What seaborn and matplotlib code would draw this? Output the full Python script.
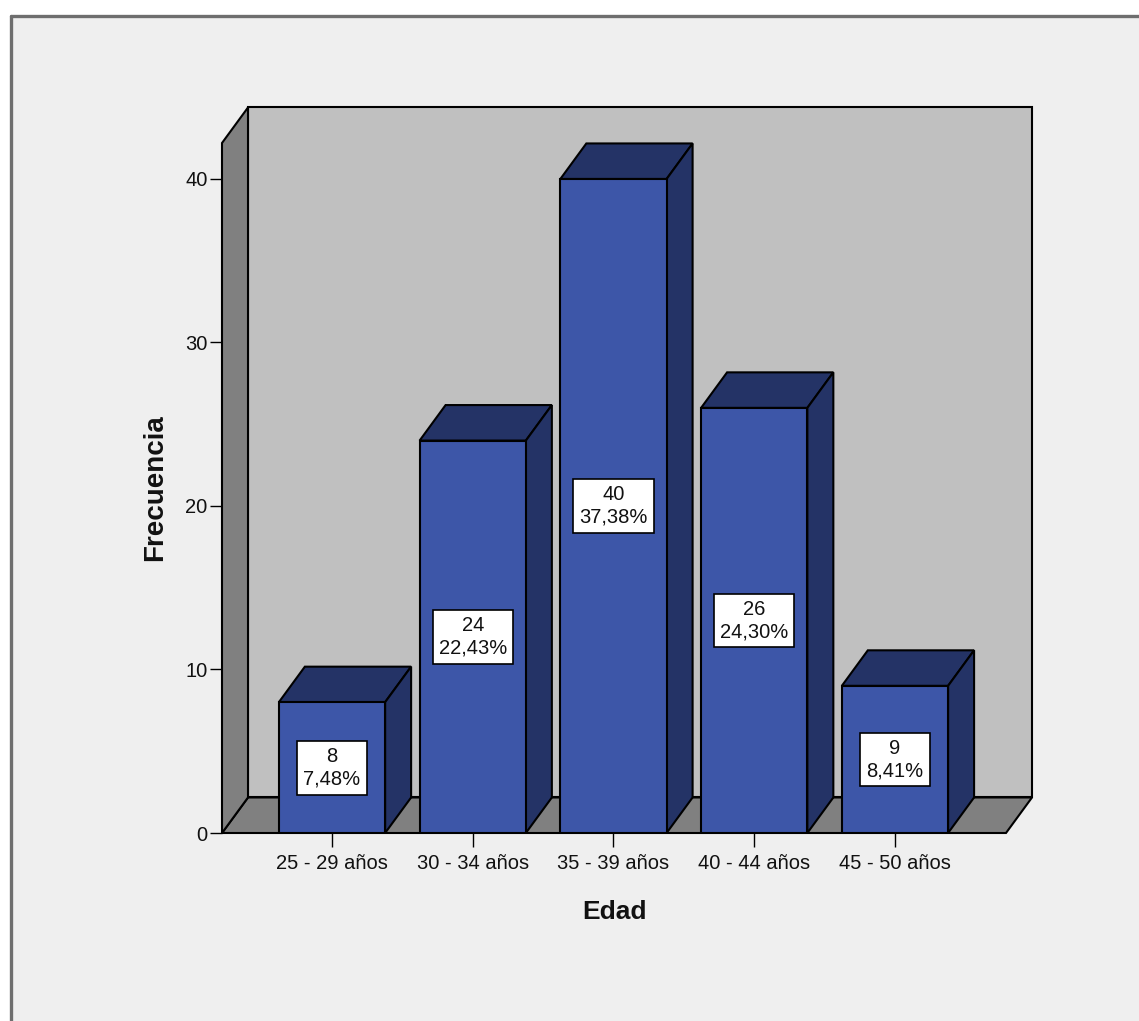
import matplotlib
matplotlib.use("Agg")
import matplotlib.pyplot as plt
from matplotlib.patches import Polygon, Rectangle
from matplotlib.lines import Line2D
import seaborn as sns
import pandas as pd

# Age groups and their frequencies
categories = ["25 - 29 años", "30 - 34 años", "35 - 39 años", "40 - 44 años", "45 - 50 años"]
counts = [8, 24, 40, 26, 9]
y_ticks = [0, 10, 20, 30, 40]

total = sum(counts)
pct_labels = [f"{c / total * 100:.2f}%".replace(".", ",") for c in counts]

sns.set_theme(style="white")
plt.rcParams["font.family"] = ["Liberation Sans", "DejaVu Sans"]

FRONT = "#3D56A8"
DARK = "#243366"
BACK_WALL = "#C0C0C0"
SIDE_WALL = "#808080"
PANEL = "#EFEFEF"

W, H = 1139, 1021
fig = plt.figure(figsize=(W / 100, H / 100), dpi=100, facecolor="white")

# Light panel with the grey frame on its top and left edges
fig.patches.append(Rectangle((11 / W, 0), 1, 1 - 15 / H, transform=fig.transFigure,
                             facecolor=PANEL, edgecolor="none", zorder=-10))
fig.lines.append(Line2D([10.5 / W, 1], [1 - 15.5 / H, 1 - 15.5 / H], transform=fig.transFigure,
                        color="#6E6E6E", lw=2.4, zorder=-5))
fig.lines.append(Line2D([10.5 / W, 10.5 / W], [0, 1 - 15.5 / H], transform=fig.transFigure,
                        color="#6E6E6E", lw=2.4, zorder=-5))

ax = fig.add_axes([222 / W, (H - 833) / H, 784 / W, 690 / H])
ax.patch.set_visible(False)

x_lo, x_hi = -0.7815, 4.789
y_top = 42.2
ax.set_xlim(x_lo, x_hi)
ax.set_ylim(0, y_top)

# Depth of the pseudo-3D box, in data units
dx = 26 / 140.75
dy = 35.5 / 16.34
edge = dict(edgecolor="black", linewidth=1.5, clip_on=False)

# Back wall, floor and left wall
ax.add_patch(Polygon([(x_lo + dx, dy), (x_hi + dx, dy), (x_hi + dx, y_top + dy), (x_lo + dx, y_top + dy)],
                     facecolor=BACK_WALL, zorder=0.1, **edge))
ax.add_patch(Polygon([(x_lo, 0), (x_hi, 0), (x_hi + dx, dy), (x_lo + dx, dy)],
                     facecolor=SIDE_WALL, zorder=0.2, **edge))
ax.add_patch(Polygon([(x_lo, 0), (x_lo, y_top), (x_lo + dx, y_top + dy), (x_lo + dx, dy)],
                     facecolor=SIDE_WALL, zorder=0.2, **edge))

# Front faces of the bars
df = pd.DataFrame({"Edad": categories, "Frecuencia": counts})
bw = 0.755
sns.barplot(data=df, x="Edad", y="Frecuencia", color=FRONT, saturation=1, width=bw,
            edgecolor="black", linewidth=1.5, ax=ax, zorder=3)

# Top and side faces of each bar, plus the count / percentage box
for i, v in enumerate(counts):
    x0, x1 = i - bw / 2, i + bw / 2
    ax.add_patch(Polygon([(x0, v), (x1, v), (x1 + dx, v + dy), (x0 + dx, v + dy)],
                         facecolor=DARK, zorder=2.5, **edge))
    ax.add_patch(Polygon([(x1, 0), (x1, v), (x1 + dx, v + dy), (x1 + dx, dy)],
                         facecolor=DARK, zorder=2.5, **edge))
    ax.text(i, v / 2, f"{v}\n{pct_labels[i]}", ha="center", va="center", fontsize=14.5,
            linespacing=1.25, color="#111111", zorder=5,
            bbox=dict(boxstyle="square,pad=0.3", facecolor="white", edgecolor="black", linewidth=1.2))

for s in ax.spines.values():
    s.set_visible(False)

ax.set_xlim(x_lo, x_hi)
ax.set_ylim(0, y_top)
ax.set_yticks(y_ticks)
ax.tick_params(axis="y", direction="out", length=8.5, width=1, color="black", pad=2,
               labelsize=14.5, labelcolor="#111111", left=True)
ax.tick_params(axis="x", direction="out", length=10, width=1, color="black", pad=5,
               labelsize=14.5, labelcolor="#111111", bottom=True)

ax.set_xlabel("Edad", fontsize=19, fontweight="bold", color="#111111")
ax.xaxis.set_label_coords(0.5, -0.1145)
ax.xaxis.label.set_va("center")
ax.set_ylabel("Frecuencia", fontsize=20, fontweight="bold", color="#111111")
ax.yaxis.set_label_coords(-0.0855, 0.501)
ax.yaxis.label.set_va("center")

fig.savefig("out.png", dpi=100, facecolor="white")
